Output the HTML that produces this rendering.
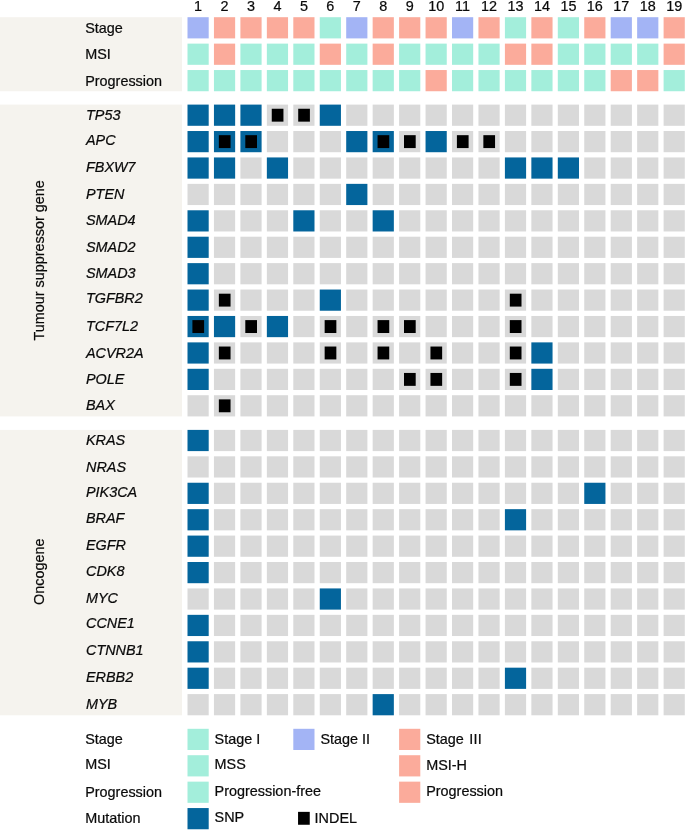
<!DOCTYPE html>
<html lang="en"><head><meta charset="utf-8"><title>Oncoprint</title>
<style>
html,body{margin:0;padding:0;background:#fff;}
body{width:685px;height:835px;overflow:hidden;}
svg{display:block;}
svg text{font-family:"Liberation Sans",Arial,Helvetica,sans-serif;font-size:14.4px;fill:#0a0a0a;stroke:#0a0a0a;stroke-width:0.22px;}
</style></head><body>
<svg width="685" height="835" viewBox="0 0 685 835">
<text x="198.10" y="10.90" text-anchor="middle">1</text>
<text x="224.55" y="10.90" text-anchor="middle">2</text>
<text x="251.00" y="10.90" text-anchor="middle">3</text>
<text x="277.45" y="10.90" text-anchor="middle">4</text>
<text x="303.90" y="10.90" text-anchor="middle">5</text>
<text x="330.35" y="10.90" text-anchor="middle">6</text>
<text x="356.80" y="10.90" text-anchor="middle">7</text>
<text x="383.25" y="10.90" text-anchor="middle">8</text>
<text x="409.70" y="10.90" text-anchor="middle">9</text>
<text x="436.15" y="10.90" text-anchor="middle">10</text>
<text x="462.60" y="10.90" text-anchor="middle">11</text>
<text x="489.05" y="10.90" text-anchor="middle">12</text>
<text x="515.50" y="10.90" text-anchor="middle">13</text>
<text x="541.95" y="10.90" text-anchor="middle">14</text>
<text x="568.40" y="10.90" text-anchor="middle">15</text>
<text x="594.85" y="10.90" text-anchor="middle">16</text>
<text x="621.30" y="10.90" text-anchor="middle">17</text>
<text x="647.75" y="10.90" text-anchor="middle">18</text>
<text x="674.20" y="10.90" text-anchor="middle">19</text>
<rect x="0.00" y="17.20" width="182.00" height="74.04" fill="#f5f3ee"/>
<rect x="0.00" y="104.60" width="182.00" height="311.82" fill="#f5f3ee"/>
<rect x="0.00" y="429.90" width="182.00" height="285.40" fill="#f5f3ee"/>
<text x="85.20" y="32.70">Stage</text>
<rect x="187.50" y="17.20" width="21.20" height="21.20" fill="#a3b4f5"/>
<rect x="213.95" y="17.20" width="21.20" height="21.20" fill="#fbab9b"/>
<rect x="240.40" y="17.20" width="21.20" height="21.20" fill="#fbab9b"/>
<rect x="266.85" y="17.20" width="21.20" height="21.20" fill="#fbab9b"/>
<rect x="293.30" y="17.20" width="21.20" height="21.20" fill="#fbab9b"/>
<rect x="319.75" y="17.20" width="21.20" height="21.20" fill="#a3eedb"/>
<rect x="346.20" y="17.20" width="21.20" height="21.20" fill="#a3b4f5"/>
<rect x="372.65" y="17.20" width="21.20" height="21.20" fill="#fbab9b"/>
<rect x="399.10" y="17.20" width="21.20" height="21.20" fill="#fbab9b"/>
<rect x="425.55" y="17.20" width="21.20" height="21.20" fill="#fbab9b"/>
<rect x="452.00" y="17.20" width="21.20" height="21.20" fill="#a3b4f5"/>
<rect x="478.45" y="17.20" width="21.20" height="21.20" fill="#fbab9b"/>
<rect x="504.90" y="17.20" width="21.20" height="21.20" fill="#a3eedb"/>
<rect x="531.35" y="17.20" width="21.20" height="21.20" fill="#fbab9b"/>
<rect x="557.80" y="17.20" width="21.20" height="21.20" fill="#a3eedb"/>
<rect x="584.25" y="17.20" width="21.20" height="21.20" fill="#fbab9b"/>
<rect x="610.70" y="17.20" width="21.20" height="21.20" fill="#a3b4f5"/>
<rect x="637.15" y="17.20" width="21.20" height="21.20" fill="#a3b4f5"/>
<rect x="663.60" y="17.20" width="21.20" height="21.20" fill="#fbab9b"/>
<text x="85.20" y="59.12">MSI</text>
<rect x="187.50" y="43.62" width="21.20" height="21.20" fill="#a3eedb"/>
<rect x="213.95" y="43.62" width="21.20" height="21.20" fill="#fbab9b"/>
<rect x="240.40" y="43.62" width="21.20" height="21.20" fill="#a3eedb"/>
<rect x="266.85" y="43.62" width="21.20" height="21.20" fill="#a3eedb"/>
<rect x="293.30" y="43.62" width="21.20" height="21.20" fill="#a3eedb"/>
<rect x="319.75" y="43.62" width="21.20" height="21.20" fill="#fbab9b"/>
<rect x="346.20" y="43.62" width="21.20" height="21.20" fill="#a3eedb"/>
<rect x="372.65" y="43.62" width="21.20" height="21.20" fill="#fbab9b"/>
<rect x="399.10" y="43.62" width="21.20" height="21.20" fill="#a3eedb"/>
<rect x="425.55" y="43.62" width="21.20" height="21.20" fill="#a3eedb"/>
<rect x="452.00" y="43.62" width="21.20" height="21.20" fill="#a3eedb"/>
<rect x="478.45" y="43.62" width="21.20" height="21.20" fill="#a3eedb"/>
<rect x="504.90" y="43.62" width="21.20" height="21.20" fill="#fbab9b"/>
<rect x="531.35" y="43.62" width="21.20" height="21.20" fill="#fbab9b"/>
<rect x="557.80" y="43.62" width="21.20" height="21.20" fill="#a3eedb"/>
<rect x="584.25" y="43.62" width="21.20" height="21.20" fill="#a3eedb"/>
<rect x="610.70" y="43.62" width="21.20" height="21.20" fill="#a3eedb"/>
<rect x="637.15" y="43.62" width="21.20" height="21.20" fill="#a3eedb"/>
<rect x="663.60" y="43.62" width="21.20" height="21.20" fill="#fbab9b"/>
<text x="85.20" y="85.54">Progression</text>
<rect x="187.50" y="70.04" width="21.20" height="21.20" fill="#a3eedb"/>
<rect x="213.95" y="70.04" width="21.20" height="21.20" fill="#a3eedb"/>
<rect x="240.40" y="70.04" width="21.20" height="21.20" fill="#a3eedb"/>
<rect x="266.85" y="70.04" width="21.20" height="21.20" fill="#a3eedb"/>
<rect x="293.30" y="70.04" width="21.20" height="21.20" fill="#a3eedb"/>
<rect x="319.75" y="70.04" width="21.20" height="21.20" fill="#a3eedb"/>
<rect x="346.20" y="70.04" width="21.20" height="21.20" fill="#a3eedb"/>
<rect x="372.65" y="70.04" width="21.20" height="21.20" fill="#a3eedb"/>
<rect x="399.10" y="70.04" width="21.20" height="21.20" fill="#a3eedb"/>
<rect x="425.55" y="70.04" width="21.20" height="21.20" fill="#fbab9b"/>
<rect x="452.00" y="70.04" width="21.20" height="21.20" fill="#a3eedb"/>
<rect x="478.45" y="70.04" width="21.20" height="21.20" fill="#a3eedb"/>
<rect x="504.90" y="70.04" width="21.20" height="21.20" fill="#a3eedb"/>
<rect x="531.35" y="70.04" width="21.20" height="21.20" fill="#a3eedb"/>
<rect x="557.80" y="70.04" width="21.20" height="21.20" fill="#a3eedb"/>
<rect x="584.25" y="70.04" width="21.20" height="21.20" fill="#a3eedb"/>
<rect x="610.70" y="70.04" width="21.20" height="21.20" fill="#fbab9b"/>
<rect x="637.15" y="70.04" width="21.20" height="21.20" fill="#fbab9b"/>
<rect x="663.60" y="70.04" width="21.20" height="21.20" fill="#a3eedb"/>
<text x="86.00" y="120.10" font-style="italic">TP53</text>
<rect x="187.50" y="104.60" width="21.20" height="21.20" fill="#04659c"/>
<rect x="213.95" y="104.60" width="21.20" height="21.20" fill="#04659c"/>
<rect x="240.40" y="104.60" width="21.20" height="21.20" fill="#04659c"/>
<rect x="266.85" y="104.60" width="21.20" height="21.20" fill="#d9d9d9"/>
<rect x="293.30" y="104.60" width="21.20" height="21.20" fill="#d9d9d9"/>
<rect x="319.75" y="104.60" width="21.20" height="21.20" fill="#04659c"/>
<rect x="346.20" y="104.60" width="21.20" height="21.20" fill="#d9d9d9"/>
<rect x="372.65" y="104.60" width="21.20" height="21.20" fill="#d9d9d9"/>
<rect x="399.10" y="104.60" width="21.20" height="21.20" fill="#d9d9d9"/>
<rect x="425.55" y="104.60" width="21.20" height="21.20" fill="#d9d9d9"/>
<rect x="452.00" y="104.60" width="21.20" height="21.20" fill="#d9d9d9"/>
<rect x="478.45" y="104.60" width="21.20" height="21.20" fill="#d9d9d9"/>
<rect x="504.90" y="104.60" width="21.20" height="21.20" fill="#d9d9d9"/>
<rect x="531.35" y="104.60" width="21.20" height="21.20" fill="#d9d9d9"/>
<rect x="557.80" y="104.60" width="21.20" height="21.20" fill="#d9d9d9"/>
<rect x="584.25" y="104.60" width="21.20" height="21.20" fill="#d9d9d9"/>
<rect x="610.70" y="104.60" width="21.20" height="21.20" fill="#d9d9d9"/>
<rect x="637.15" y="104.60" width="21.20" height="21.20" fill="#d9d9d9"/>
<rect x="663.60" y="104.60" width="21.20" height="21.20" fill="#d9d9d9"/>
<rect x="271.75" y="108.75" width="11.70" height="12.90" fill="#000"/>
<rect x="298.20" y="108.75" width="11.70" height="12.90" fill="#000"/>
<text x="86.00" y="145.27" font-style="italic">APC</text>
<rect x="187.50" y="131.02" width="21.20" height="21.20" fill="#04659c"/>
<rect x="213.95" y="131.02" width="21.20" height="21.20" fill="#04659c"/>
<rect x="240.40" y="131.02" width="21.20" height="21.20" fill="#04659c"/>
<rect x="266.85" y="131.02" width="21.20" height="21.20" fill="#d9d9d9"/>
<rect x="293.30" y="131.02" width="21.20" height="21.20" fill="#d9d9d9"/>
<rect x="319.75" y="131.02" width="21.20" height="21.20" fill="#d9d9d9"/>
<rect x="346.20" y="131.02" width="21.20" height="21.20" fill="#04659c"/>
<rect x="372.65" y="131.02" width="21.20" height="21.20" fill="#04659c"/>
<rect x="399.10" y="131.02" width="21.20" height="21.20" fill="#d9d9d9"/>
<rect x="425.55" y="131.02" width="21.20" height="21.20" fill="#04659c"/>
<rect x="452.00" y="131.02" width="21.20" height="21.20" fill="#d9d9d9"/>
<rect x="478.45" y="131.02" width="21.20" height="21.20" fill="#d9d9d9"/>
<rect x="504.90" y="131.02" width="21.20" height="21.20" fill="#d9d9d9"/>
<rect x="531.35" y="131.02" width="21.20" height="21.20" fill="#d9d9d9"/>
<rect x="557.80" y="131.02" width="21.20" height="21.20" fill="#d9d9d9"/>
<rect x="584.25" y="131.02" width="21.20" height="21.20" fill="#d9d9d9"/>
<rect x="610.70" y="131.02" width="21.20" height="21.20" fill="#d9d9d9"/>
<rect x="637.15" y="131.02" width="21.20" height="21.20" fill="#d9d9d9"/>
<rect x="663.60" y="131.02" width="21.20" height="21.20" fill="#d9d9d9"/>
<rect x="218.85" y="135.17" width="11.70" height="12.90" fill="#000"/>
<rect x="245.30" y="135.17" width="11.70" height="12.90" fill="#000"/>
<rect x="377.55" y="135.17" width="11.70" height="12.90" fill="#000"/>
<rect x="404.00" y="135.17" width="11.70" height="12.90" fill="#000"/>
<rect x="456.90" y="135.17" width="11.70" height="12.90" fill="#000"/>
<rect x="483.35" y="135.17" width="11.70" height="12.90" fill="#000"/>
<text x="86.00" y="172.44" font-style="italic">FBXW7</text>
<rect x="187.50" y="157.44" width="21.20" height="21.20" fill="#04659c"/>
<rect x="213.95" y="157.44" width="21.20" height="21.20" fill="#04659c"/>
<rect x="240.40" y="157.44" width="21.20" height="21.20" fill="#d9d9d9"/>
<rect x="266.85" y="157.44" width="21.20" height="21.20" fill="#04659c"/>
<rect x="293.30" y="157.44" width="21.20" height="21.20" fill="#d9d9d9"/>
<rect x="319.75" y="157.44" width="21.20" height="21.20" fill="#d9d9d9"/>
<rect x="346.20" y="157.44" width="21.20" height="21.20" fill="#d9d9d9"/>
<rect x="372.65" y="157.44" width="21.20" height="21.20" fill="#d9d9d9"/>
<rect x="399.10" y="157.44" width="21.20" height="21.20" fill="#d9d9d9"/>
<rect x="425.55" y="157.44" width="21.20" height="21.20" fill="#d9d9d9"/>
<rect x="452.00" y="157.44" width="21.20" height="21.20" fill="#d9d9d9"/>
<rect x="478.45" y="157.44" width="21.20" height="21.20" fill="#d9d9d9"/>
<rect x="504.90" y="157.44" width="21.20" height="21.20" fill="#04659c"/>
<rect x="531.35" y="157.44" width="21.20" height="21.20" fill="#04659c"/>
<rect x="557.80" y="157.44" width="21.20" height="21.20" fill="#04659c"/>
<rect x="584.25" y="157.44" width="21.20" height="21.20" fill="#d9d9d9"/>
<rect x="610.70" y="157.44" width="21.20" height="21.20" fill="#d9d9d9"/>
<rect x="637.15" y="157.44" width="21.20" height="21.20" fill="#d9d9d9"/>
<rect x="663.60" y="157.44" width="21.20" height="21.20" fill="#d9d9d9"/>
<text x="86.00" y="198.86" font-style="italic">PTEN</text>
<rect x="187.50" y="183.86" width="21.20" height="21.20" fill="#d9d9d9"/>
<rect x="213.95" y="183.86" width="21.20" height="21.20" fill="#d9d9d9"/>
<rect x="240.40" y="183.86" width="21.20" height="21.20" fill="#d9d9d9"/>
<rect x="266.85" y="183.86" width="21.20" height="21.20" fill="#d9d9d9"/>
<rect x="293.30" y="183.86" width="21.20" height="21.20" fill="#d9d9d9"/>
<rect x="319.75" y="183.86" width="21.20" height="21.20" fill="#d9d9d9"/>
<rect x="346.20" y="183.86" width="21.20" height="21.20" fill="#04659c"/>
<rect x="372.65" y="183.86" width="21.20" height="21.20" fill="#d9d9d9"/>
<rect x="399.10" y="183.86" width="21.20" height="21.20" fill="#d9d9d9"/>
<rect x="425.55" y="183.86" width="21.20" height="21.20" fill="#d9d9d9"/>
<rect x="452.00" y="183.86" width="21.20" height="21.20" fill="#d9d9d9"/>
<rect x="478.45" y="183.86" width="21.20" height="21.20" fill="#d9d9d9"/>
<rect x="504.90" y="183.86" width="21.20" height="21.20" fill="#d9d9d9"/>
<rect x="531.35" y="183.86" width="21.20" height="21.20" fill="#d9d9d9"/>
<rect x="557.80" y="183.86" width="21.20" height="21.20" fill="#d9d9d9"/>
<rect x="584.25" y="183.86" width="21.20" height="21.20" fill="#d9d9d9"/>
<rect x="610.70" y="183.86" width="21.20" height="21.20" fill="#d9d9d9"/>
<rect x="637.15" y="183.86" width="21.20" height="21.20" fill="#d9d9d9"/>
<rect x="663.60" y="183.86" width="21.20" height="21.20" fill="#d9d9d9"/>
<text x="86.00" y="225.08" font-style="italic">SMAD4</text>
<rect x="187.50" y="210.28" width="21.20" height="21.20" fill="#04659c"/>
<rect x="213.95" y="210.28" width="21.20" height="21.20" fill="#d9d9d9"/>
<rect x="240.40" y="210.28" width="21.20" height="21.20" fill="#d9d9d9"/>
<rect x="266.85" y="210.28" width="21.20" height="21.20" fill="#d9d9d9"/>
<rect x="293.30" y="210.28" width="21.20" height="21.20" fill="#04659c"/>
<rect x="319.75" y="210.28" width="21.20" height="21.20" fill="#d9d9d9"/>
<rect x="346.20" y="210.28" width="21.20" height="21.20" fill="#d9d9d9"/>
<rect x="372.65" y="210.28" width="21.20" height="21.20" fill="#04659c"/>
<rect x="399.10" y="210.28" width="21.20" height="21.20" fill="#d9d9d9"/>
<rect x="425.55" y="210.28" width="21.20" height="21.20" fill="#d9d9d9"/>
<rect x="452.00" y="210.28" width="21.20" height="21.20" fill="#d9d9d9"/>
<rect x="478.45" y="210.28" width="21.20" height="21.20" fill="#d9d9d9"/>
<rect x="504.90" y="210.28" width="21.20" height="21.20" fill="#d9d9d9"/>
<rect x="531.35" y="210.28" width="21.20" height="21.20" fill="#d9d9d9"/>
<rect x="557.80" y="210.28" width="21.20" height="21.20" fill="#d9d9d9"/>
<rect x="584.25" y="210.28" width="21.20" height="21.20" fill="#d9d9d9"/>
<rect x="610.70" y="210.28" width="21.20" height="21.20" fill="#d9d9d9"/>
<rect x="637.15" y="210.28" width="21.20" height="21.20" fill="#d9d9d9"/>
<rect x="663.60" y="210.28" width="21.20" height="21.20" fill="#d9d9d9"/>
<text x="86.00" y="251.50" font-style="italic">SMAD2</text>
<rect x="187.50" y="236.70" width="21.20" height="21.20" fill="#04659c"/>
<rect x="213.95" y="236.70" width="21.20" height="21.20" fill="#d9d9d9"/>
<rect x="240.40" y="236.70" width="21.20" height="21.20" fill="#d9d9d9"/>
<rect x="266.85" y="236.70" width="21.20" height="21.20" fill="#d9d9d9"/>
<rect x="293.30" y="236.70" width="21.20" height="21.20" fill="#d9d9d9"/>
<rect x="319.75" y="236.70" width="21.20" height="21.20" fill="#d9d9d9"/>
<rect x="346.20" y="236.70" width="21.20" height="21.20" fill="#d9d9d9"/>
<rect x="372.65" y="236.70" width="21.20" height="21.20" fill="#d9d9d9"/>
<rect x="399.10" y="236.70" width="21.20" height="21.20" fill="#d9d9d9"/>
<rect x="425.55" y="236.70" width="21.20" height="21.20" fill="#d9d9d9"/>
<rect x="452.00" y="236.70" width="21.20" height="21.20" fill="#d9d9d9"/>
<rect x="478.45" y="236.70" width="21.20" height="21.20" fill="#d9d9d9"/>
<rect x="504.90" y="236.70" width="21.20" height="21.20" fill="#d9d9d9"/>
<rect x="531.35" y="236.70" width="21.20" height="21.20" fill="#d9d9d9"/>
<rect x="557.80" y="236.70" width="21.20" height="21.20" fill="#d9d9d9"/>
<rect x="584.25" y="236.70" width="21.20" height="21.20" fill="#d9d9d9"/>
<rect x="610.70" y="236.70" width="21.20" height="21.20" fill="#d9d9d9"/>
<rect x="637.15" y="236.70" width="21.20" height="21.20" fill="#d9d9d9"/>
<rect x="663.60" y="236.70" width="21.20" height="21.20" fill="#d9d9d9"/>
<text x="86.00" y="277.62" font-style="italic">SMAD3</text>
<rect x="187.50" y="263.12" width="21.20" height="21.20" fill="#04659c"/>
<rect x="213.95" y="263.12" width="21.20" height="21.20" fill="#d9d9d9"/>
<rect x="240.40" y="263.12" width="21.20" height="21.20" fill="#d9d9d9"/>
<rect x="266.85" y="263.12" width="21.20" height="21.20" fill="#d9d9d9"/>
<rect x="293.30" y="263.12" width="21.20" height="21.20" fill="#d9d9d9"/>
<rect x="319.75" y="263.12" width="21.20" height="21.20" fill="#d9d9d9"/>
<rect x="346.20" y="263.12" width="21.20" height="21.20" fill="#d9d9d9"/>
<rect x="372.65" y="263.12" width="21.20" height="21.20" fill="#d9d9d9"/>
<rect x="399.10" y="263.12" width="21.20" height="21.20" fill="#d9d9d9"/>
<rect x="425.55" y="263.12" width="21.20" height="21.20" fill="#d9d9d9"/>
<rect x="452.00" y="263.12" width="21.20" height="21.20" fill="#d9d9d9"/>
<rect x="478.45" y="263.12" width="21.20" height="21.20" fill="#d9d9d9"/>
<rect x="504.90" y="263.12" width="21.20" height="21.20" fill="#d9d9d9"/>
<rect x="531.35" y="263.12" width="21.20" height="21.20" fill="#d9d9d9"/>
<rect x="557.80" y="263.12" width="21.20" height="21.20" fill="#d9d9d9"/>
<rect x="584.25" y="263.12" width="21.20" height="21.20" fill="#d9d9d9"/>
<rect x="610.70" y="263.12" width="21.20" height="21.20" fill="#d9d9d9"/>
<rect x="637.15" y="263.12" width="21.20" height="21.20" fill="#d9d9d9"/>
<rect x="663.60" y="263.12" width="21.20" height="21.20" fill="#d9d9d9"/>
<text x="86.00" y="302.84" font-style="italic">TGFBR2</text>
<rect x="187.50" y="289.54" width="21.20" height="21.20" fill="#04659c"/>
<rect x="213.95" y="289.54" width="21.20" height="21.20" fill="#d9d9d9"/>
<rect x="240.40" y="289.54" width="21.20" height="21.20" fill="#d9d9d9"/>
<rect x="266.85" y="289.54" width="21.20" height="21.20" fill="#d9d9d9"/>
<rect x="293.30" y="289.54" width="21.20" height="21.20" fill="#d9d9d9"/>
<rect x="319.75" y="289.54" width="21.20" height="21.20" fill="#04659c"/>
<rect x="346.20" y="289.54" width="21.20" height="21.20" fill="#d9d9d9"/>
<rect x="372.65" y="289.54" width="21.20" height="21.20" fill="#d9d9d9"/>
<rect x="399.10" y="289.54" width="21.20" height="21.20" fill="#d9d9d9"/>
<rect x="425.55" y="289.54" width="21.20" height="21.20" fill="#d9d9d9"/>
<rect x="452.00" y="289.54" width="21.20" height="21.20" fill="#d9d9d9"/>
<rect x="478.45" y="289.54" width="21.20" height="21.20" fill="#d9d9d9"/>
<rect x="504.90" y="289.54" width="21.20" height="21.20" fill="#d9d9d9"/>
<rect x="531.35" y="289.54" width="21.20" height="21.20" fill="#d9d9d9"/>
<rect x="557.80" y="289.54" width="21.20" height="21.20" fill="#d9d9d9"/>
<rect x="584.25" y="289.54" width="21.20" height="21.20" fill="#d9d9d9"/>
<rect x="610.70" y="289.54" width="21.20" height="21.20" fill="#d9d9d9"/>
<rect x="637.15" y="289.54" width="21.20" height="21.20" fill="#d9d9d9"/>
<rect x="663.60" y="289.54" width="21.20" height="21.20" fill="#d9d9d9"/>
<rect x="218.85" y="293.69" width="11.70" height="12.90" fill="#000"/>
<rect x="509.80" y="293.69" width="11.70" height="12.90" fill="#000"/>
<text x="86.00" y="330.76" font-style="italic">TCF7L2</text>
<rect x="187.50" y="315.96" width="21.20" height="21.20" fill="#04659c"/>
<rect x="213.95" y="315.96" width="21.20" height="21.20" fill="#04659c"/>
<rect x="240.40" y="315.96" width="21.20" height="21.20" fill="#d9d9d9"/>
<rect x="266.85" y="315.96" width="21.20" height="21.20" fill="#04659c"/>
<rect x="293.30" y="315.96" width="21.20" height="21.20" fill="#d9d9d9"/>
<rect x="319.75" y="315.96" width="21.20" height="21.20" fill="#d9d9d9"/>
<rect x="346.20" y="315.96" width="21.20" height="21.20" fill="#d9d9d9"/>
<rect x="372.65" y="315.96" width="21.20" height="21.20" fill="#d9d9d9"/>
<rect x="399.10" y="315.96" width="21.20" height="21.20" fill="#d9d9d9"/>
<rect x="425.55" y="315.96" width="21.20" height="21.20" fill="#d9d9d9"/>
<rect x="452.00" y="315.96" width="21.20" height="21.20" fill="#d9d9d9"/>
<rect x="478.45" y="315.96" width="21.20" height="21.20" fill="#d9d9d9"/>
<rect x="504.90" y="315.96" width="21.20" height="21.20" fill="#d9d9d9"/>
<rect x="531.35" y="315.96" width="21.20" height="21.20" fill="#d9d9d9"/>
<rect x="557.80" y="315.96" width="21.20" height="21.20" fill="#d9d9d9"/>
<rect x="584.25" y="315.96" width="21.20" height="21.20" fill="#d9d9d9"/>
<rect x="610.70" y="315.96" width="21.20" height="21.20" fill="#d9d9d9"/>
<rect x="637.15" y="315.96" width="21.20" height="21.20" fill="#d9d9d9"/>
<rect x="663.60" y="315.96" width="21.20" height="21.20" fill="#d9d9d9"/>
<rect x="192.40" y="320.11" width="11.70" height="12.90" fill="#000"/>
<rect x="245.30" y="320.11" width="11.70" height="12.90" fill="#000"/>
<rect x="324.65" y="320.11" width="11.70" height="12.90" fill="#000"/>
<rect x="377.55" y="320.11" width="11.70" height="12.90" fill="#000"/>
<rect x="404.00" y="320.11" width="11.70" height="12.90" fill="#000"/>
<rect x="509.80" y="320.11" width="11.70" height="12.90" fill="#000"/>
<text x="86.00" y="357.88" font-style="italic">ACVR2A</text>
<rect x="187.50" y="342.38" width="21.20" height="21.20" fill="#04659c"/>
<rect x="213.95" y="342.38" width="21.20" height="21.20" fill="#d9d9d9"/>
<rect x="240.40" y="342.38" width="21.20" height="21.20" fill="#d9d9d9"/>
<rect x="266.85" y="342.38" width="21.20" height="21.20" fill="#d9d9d9"/>
<rect x="293.30" y="342.38" width="21.20" height="21.20" fill="#d9d9d9"/>
<rect x="319.75" y="342.38" width="21.20" height="21.20" fill="#d9d9d9"/>
<rect x="346.20" y="342.38" width="21.20" height="21.20" fill="#d9d9d9"/>
<rect x="372.65" y="342.38" width="21.20" height="21.20" fill="#d9d9d9"/>
<rect x="399.10" y="342.38" width="21.20" height="21.20" fill="#d9d9d9"/>
<rect x="425.55" y="342.38" width="21.20" height="21.20" fill="#d9d9d9"/>
<rect x="452.00" y="342.38" width="21.20" height="21.20" fill="#d9d9d9"/>
<rect x="478.45" y="342.38" width="21.20" height="21.20" fill="#d9d9d9"/>
<rect x="504.90" y="342.38" width="21.20" height="21.20" fill="#d9d9d9"/>
<rect x="531.35" y="342.38" width="21.20" height="21.20" fill="#04659c"/>
<rect x="557.80" y="342.38" width="21.20" height="21.20" fill="#d9d9d9"/>
<rect x="584.25" y="342.38" width="21.20" height="21.20" fill="#d9d9d9"/>
<rect x="610.70" y="342.38" width="21.20" height="21.20" fill="#d9d9d9"/>
<rect x="637.15" y="342.38" width="21.20" height="21.20" fill="#d9d9d9"/>
<rect x="663.60" y="342.38" width="21.20" height="21.20" fill="#d9d9d9"/>
<rect x="218.85" y="346.53" width="11.70" height="12.90" fill="#000"/>
<rect x="324.65" y="346.53" width="11.70" height="12.90" fill="#000"/>
<rect x="377.55" y="346.53" width="11.70" height="12.90" fill="#000"/>
<rect x="430.45" y="346.53" width="11.70" height="12.90" fill="#000"/>
<rect x="509.80" y="346.53" width="11.70" height="12.90" fill="#000"/>
<text x="86.00" y="384.30" font-style="italic">POLE</text>
<rect x="187.50" y="368.80" width="21.20" height="21.20" fill="#04659c"/>
<rect x="213.95" y="368.80" width="21.20" height="21.20" fill="#d9d9d9"/>
<rect x="240.40" y="368.80" width="21.20" height="21.20" fill="#d9d9d9"/>
<rect x="266.85" y="368.80" width="21.20" height="21.20" fill="#d9d9d9"/>
<rect x="293.30" y="368.80" width="21.20" height="21.20" fill="#d9d9d9"/>
<rect x="319.75" y="368.80" width="21.20" height="21.20" fill="#d9d9d9"/>
<rect x="346.20" y="368.80" width="21.20" height="21.20" fill="#d9d9d9"/>
<rect x="372.65" y="368.80" width="21.20" height="21.20" fill="#d9d9d9"/>
<rect x="399.10" y="368.80" width="21.20" height="21.20" fill="#d9d9d9"/>
<rect x="425.55" y="368.80" width="21.20" height="21.20" fill="#d9d9d9"/>
<rect x="452.00" y="368.80" width="21.20" height="21.20" fill="#d9d9d9"/>
<rect x="478.45" y="368.80" width="21.20" height="21.20" fill="#d9d9d9"/>
<rect x="504.90" y="368.80" width="21.20" height="21.20" fill="#d9d9d9"/>
<rect x="531.35" y="368.80" width="21.20" height="21.20" fill="#04659c"/>
<rect x="557.80" y="368.80" width="21.20" height="21.20" fill="#d9d9d9"/>
<rect x="584.25" y="368.80" width="21.20" height="21.20" fill="#d9d9d9"/>
<rect x="610.70" y="368.80" width="21.20" height="21.20" fill="#d9d9d9"/>
<rect x="637.15" y="368.80" width="21.20" height="21.20" fill="#d9d9d9"/>
<rect x="663.60" y="368.80" width="21.20" height="21.20" fill="#d9d9d9"/>
<rect x="404.00" y="372.95" width="11.70" height="12.90" fill="#000"/>
<rect x="430.45" y="372.95" width="11.70" height="12.90" fill="#000"/>
<rect x="509.80" y="372.95" width="11.70" height="12.90" fill="#000"/>
<text x="86.00" y="410.22" font-style="italic">BAX</text>
<rect x="187.50" y="395.22" width="21.20" height="21.20" fill="#d9d9d9"/>
<rect x="213.95" y="395.22" width="21.20" height="21.20" fill="#d9d9d9"/>
<rect x="240.40" y="395.22" width="21.20" height="21.20" fill="#d9d9d9"/>
<rect x="266.85" y="395.22" width="21.20" height="21.20" fill="#d9d9d9"/>
<rect x="293.30" y="395.22" width="21.20" height="21.20" fill="#d9d9d9"/>
<rect x="319.75" y="395.22" width="21.20" height="21.20" fill="#d9d9d9"/>
<rect x="346.20" y="395.22" width="21.20" height="21.20" fill="#d9d9d9"/>
<rect x="372.65" y="395.22" width="21.20" height="21.20" fill="#d9d9d9"/>
<rect x="399.10" y="395.22" width="21.20" height="21.20" fill="#d9d9d9"/>
<rect x="425.55" y="395.22" width="21.20" height="21.20" fill="#d9d9d9"/>
<rect x="452.00" y="395.22" width="21.20" height="21.20" fill="#d9d9d9"/>
<rect x="478.45" y="395.22" width="21.20" height="21.20" fill="#d9d9d9"/>
<rect x="504.90" y="395.22" width="21.20" height="21.20" fill="#d9d9d9"/>
<rect x="531.35" y="395.22" width="21.20" height="21.20" fill="#d9d9d9"/>
<rect x="557.80" y="395.22" width="21.20" height="21.20" fill="#d9d9d9"/>
<rect x="584.25" y="395.22" width="21.20" height="21.20" fill="#d9d9d9"/>
<rect x="610.70" y="395.22" width="21.20" height="21.20" fill="#d9d9d9"/>
<rect x="637.15" y="395.22" width="21.20" height="21.20" fill="#d9d9d9"/>
<rect x="663.60" y="395.22" width="21.20" height="21.20" fill="#d9d9d9"/>
<rect x="218.85" y="399.37" width="11.70" height="12.90" fill="#000"/>
<text x="86.00" y="445.40" font-style="italic">KRAS</text>
<rect x="187.50" y="429.90" width="21.20" height="21.20" fill="#04659c"/>
<rect x="213.95" y="429.90" width="21.20" height="21.20" fill="#d9d9d9"/>
<rect x="240.40" y="429.90" width="21.20" height="21.20" fill="#d9d9d9"/>
<rect x="266.85" y="429.90" width="21.20" height="21.20" fill="#d9d9d9"/>
<rect x="293.30" y="429.90" width="21.20" height="21.20" fill="#d9d9d9"/>
<rect x="319.75" y="429.90" width="21.20" height="21.20" fill="#d9d9d9"/>
<rect x="346.20" y="429.90" width="21.20" height="21.20" fill="#d9d9d9"/>
<rect x="372.65" y="429.90" width="21.20" height="21.20" fill="#d9d9d9"/>
<rect x="399.10" y="429.90" width="21.20" height="21.20" fill="#d9d9d9"/>
<rect x="425.55" y="429.90" width="21.20" height="21.20" fill="#d9d9d9"/>
<rect x="452.00" y="429.90" width="21.20" height="21.20" fill="#d9d9d9"/>
<rect x="478.45" y="429.90" width="21.20" height="21.20" fill="#d9d9d9"/>
<rect x="504.90" y="429.90" width="21.20" height="21.20" fill="#d9d9d9"/>
<rect x="531.35" y="429.90" width="21.20" height="21.20" fill="#d9d9d9"/>
<rect x="557.80" y="429.90" width="21.20" height="21.20" fill="#d9d9d9"/>
<rect x="584.25" y="429.90" width="21.20" height="21.20" fill="#d9d9d9"/>
<rect x="610.70" y="429.90" width="21.20" height="21.20" fill="#d9d9d9"/>
<rect x="637.15" y="429.90" width="21.20" height="21.20" fill="#d9d9d9"/>
<rect x="663.60" y="429.90" width="21.20" height="21.20" fill="#d9d9d9"/>
<text x="86.00" y="471.82" font-style="italic">NRAS</text>
<rect x="187.50" y="456.32" width="21.20" height="21.20" fill="#d9d9d9"/>
<rect x="213.95" y="456.32" width="21.20" height="21.20" fill="#d9d9d9"/>
<rect x="240.40" y="456.32" width="21.20" height="21.20" fill="#d9d9d9"/>
<rect x="266.85" y="456.32" width="21.20" height="21.20" fill="#d9d9d9"/>
<rect x="293.30" y="456.32" width="21.20" height="21.20" fill="#d9d9d9"/>
<rect x="319.75" y="456.32" width="21.20" height="21.20" fill="#d9d9d9"/>
<rect x="346.20" y="456.32" width="21.20" height="21.20" fill="#d9d9d9"/>
<rect x="372.65" y="456.32" width="21.20" height="21.20" fill="#d9d9d9"/>
<rect x="399.10" y="456.32" width="21.20" height="21.20" fill="#d9d9d9"/>
<rect x="425.55" y="456.32" width="21.20" height="21.20" fill="#d9d9d9"/>
<rect x="452.00" y="456.32" width="21.20" height="21.20" fill="#d9d9d9"/>
<rect x="478.45" y="456.32" width="21.20" height="21.20" fill="#d9d9d9"/>
<rect x="504.90" y="456.32" width="21.20" height="21.20" fill="#d9d9d9"/>
<rect x="531.35" y="456.32" width="21.20" height="21.20" fill="#d9d9d9"/>
<rect x="557.80" y="456.32" width="21.20" height="21.20" fill="#d9d9d9"/>
<rect x="584.25" y="456.32" width="21.20" height="21.20" fill="#d9d9d9"/>
<rect x="610.70" y="456.32" width="21.20" height="21.20" fill="#d9d9d9"/>
<rect x="637.15" y="456.32" width="21.20" height="21.20" fill="#d9d9d9"/>
<rect x="663.60" y="456.32" width="21.20" height="21.20" fill="#d9d9d9"/>
<text x="86.00" y="497.09" font-style="italic">PIK3CA</text>
<rect x="187.50" y="482.74" width="21.20" height="21.20" fill="#04659c"/>
<rect x="213.95" y="482.74" width="21.20" height="21.20" fill="#d9d9d9"/>
<rect x="240.40" y="482.74" width="21.20" height="21.20" fill="#d9d9d9"/>
<rect x="266.85" y="482.74" width="21.20" height="21.20" fill="#d9d9d9"/>
<rect x="293.30" y="482.74" width="21.20" height="21.20" fill="#d9d9d9"/>
<rect x="319.75" y="482.74" width="21.20" height="21.20" fill="#d9d9d9"/>
<rect x="346.20" y="482.74" width="21.20" height="21.20" fill="#d9d9d9"/>
<rect x="372.65" y="482.74" width="21.20" height="21.20" fill="#d9d9d9"/>
<rect x="399.10" y="482.74" width="21.20" height="21.20" fill="#d9d9d9"/>
<rect x="425.55" y="482.74" width="21.20" height="21.20" fill="#d9d9d9"/>
<rect x="452.00" y="482.74" width="21.20" height="21.20" fill="#d9d9d9"/>
<rect x="478.45" y="482.74" width="21.20" height="21.20" fill="#d9d9d9"/>
<rect x="504.90" y="482.74" width="21.20" height="21.20" fill="#d9d9d9"/>
<rect x="531.35" y="482.74" width="21.20" height="21.20" fill="#d9d9d9"/>
<rect x="557.80" y="482.74" width="21.20" height="21.20" fill="#d9d9d9"/>
<rect x="584.25" y="482.74" width="21.20" height="21.20" fill="#04659c"/>
<rect x="610.70" y="482.74" width="21.20" height="21.20" fill="#d9d9d9"/>
<rect x="637.15" y="482.74" width="21.20" height="21.20" fill="#d9d9d9"/>
<rect x="663.60" y="482.74" width="21.20" height="21.20" fill="#d9d9d9"/>
<text x="86.00" y="523.41" font-style="italic">BRAF</text>
<rect x="187.50" y="509.16" width="21.20" height="21.20" fill="#04659c"/>
<rect x="213.95" y="509.16" width="21.20" height="21.20" fill="#d9d9d9"/>
<rect x="240.40" y="509.16" width="21.20" height="21.20" fill="#d9d9d9"/>
<rect x="266.85" y="509.16" width="21.20" height="21.20" fill="#d9d9d9"/>
<rect x="293.30" y="509.16" width="21.20" height="21.20" fill="#d9d9d9"/>
<rect x="319.75" y="509.16" width="21.20" height="21.20" fill="#d9d9d9"/>
<rect x="346.20" y="509.16" width="21.20" height="21.20" fill="#d9d9d9"/>
<rect x="372.65" y="509.16" width="21.20" height="21.20" fill="#d9d9d9"/>
<rect x="399.10" y="509.16" width="21.20" height="21.20" fill="#d9d9d9"/>
<rect x="425.55" y="509.16" width="21.20" height="21.20" fill="#d9d9d9"/>
<rect x="452.00" y="509.16" width="21.20" height="21.20" fill="#d9d9d9"/>
<rect x="478.45" y="509.16" width="21.20" height="21.20" fill="#d9d9d9"/>
<rect x="504.90" y="509.16" width="21.20" height="21.20" fill="#04659c"/>
<rect x="531.35" y="509.16" width="21.20" height="21.20" fill="#d9d9d9"/>
<rect x="557.80" y="509.16" width="21.20" height="21.20" fill="#d9d9d9"/>
<rect x="584.25" y="509.16" width="21.20" height="21.20" fill="#d9d9d9"/>
<rect x="610.70" y="509.16" width="21.20" height="21.20" fill="#d9d9d9"/>
<rect x="637.15" y="509.16" width="21.20" height="21.20" fill="#d9d9d9"/>
<rect x="663.60" y="509.16" width="21.20" height="21.20" fill="#d9d9d9"/>
<text x="86.00" y="549.93" font-style="italic">EGFR</text>
<rect x="187.50" y="535.58" width="21.20" height="21.20" fill="#04659c"/>
<rect x="213.95" y="535.58" width="21.20" height="21.20" fill="#d9d9d9"/>
<rect x="240.40" y="535.58" width="21.20" height="21.20" fill="#d9d9d9"/>
<rect x="266.85" y="535.58" width="21.20" height="21.20" fill="#d9d9d9"/>
<rect x="293.30" y="535.58" width="21.20" height="21.20" fill="#d9d9d9"/>
<rect x="319.75" y="535.58" width="21.20" height="21.20" fill="#d9d9d9"/>
<rect x="346.20" y="535.58" width="21.20" height="21.20" fill="#d9d9d9"/>
<rect x="372.65" y="535.58" width="21.20" height="21.20" fill="#d9d9d9"/>
<rect x="399.10" y="535.58" width="21.20" height="21.20" fill="#d9d9d9"/>
<rect x="425.55" y="535.58" width="21.20" height="21.20" fill="#d9d9d9"/>
<rect x="452.00" y="535.58" width="21.20" height="21.20" fill="#d9d9d9"/>
<rect x="478.45" y="535.58" width="21.20" height="21.20" fill="#d9d9d9"/>
<rect x="504.90" y="535.58" width="21.20" height="21.20" fill="#d9d9d9"/>
<rect x="531.35" y="535.58" width="21.20" height="21.20" fill="#d9d9d9"/>
<rect x="557.80" y="535.58" width="21.20" height="21.20" fill="#d9d9d9"/>
<rect x="584.25" y="535.58" width="21.20" height="21.20" fill="#d9d9d9"/>
<rect x="610.70" y="535.58" width="21.20" height="21.20" fill="#d9d9d9"/>
<rect x="637.15" y="535.58" width="21.20" height="21.20" fill="#d9d9d9"/>
<rect x="663.60" y="535.58" width="21.20" height="21.20" fill="#d9d9d9"/>
<text x="86.00" y="576.25" font-style="italic">CDK8</text>
<rect x="187.50" y="562.00" width="21.20" height="21.20" fill="#04659c"/>
<rect x="213.95" y="562.00" width="21.20" height="21.20" fill="#d9d9d9"/>
<rect x="240.40" y="562.00" width="21.20" height="21.20" fill="#d9d9d9"/>
<rect x="266.85" y="562.00" width="21.20" height="21.20" fill="#d9d9d9"/>
<rect x="293.30" y="562.00" width="21.20" height="21.20" fill="#d9d9d9"/>
<rect x="319.75" y="562.00" width="21.20" height="21.20" fill="#d9d9d9"/>
<rect x="346.20" y="562.00" width="21.20" height="21.20" fill="#d9d9d9"/>
<rect x="372.65" y="562.00" width="21.20" height="21.20" fill="#d9d9d9"/>
<rect x="399.10" y="562.00" width="21.20" height="21.20" fill="#d9d9d9"/>
<rect x="425.55" y="562.00" width="21.20" height="21.20" fill="#d9d9d9"/>
<rect x="452.00" y="562.00" width="21.20" height="21.20" fill="#d9d9d9"/>
<rect x="478.45" y="562.00" width="21.20" height="21.20" fill="#d9d9d9"/>
<rect x="504.90" y="562.00" width="21.20" height="21.20" fill="#d9d9d9"/>
<rect x="531.35" y="562.00" width="21.20" height="21.20" fill="#d9d9d9"/>
<rect x="557.80" y="562.00" width="21.20" height="21.20" fill="#d9d9d9"/>
<rect x="584.25" y="562.00" width="21.20" height="21.20" fill="#d9d9d9"/>
<rect x="610.70" y="562.00" width="21.20" height="21.20" fill="#d9d9d9"/>
<rect x="637.15" y="562.00" width="21.20" height="21.20" fill="#d9d9d9"/>
<rect x="663.60" y="562.00" width="21.20" height="21.20" fill="#d9d9d9"/>
<text x="86.00" y="602.67" font-style="italic">MYC</text>
<rect x="187.50" y="588.42" width="21.20" height="21.20" fill="#d9d9d9"/>
<rect x="213.95" y="588.42" width="21.20" height="21.20" fill="#d9d9d9"/>
<rect x="240.40" y="588.42" width="21.20" height="21.20" fill="#d9d9d9"/>
<rect x="266.85" y="588.42" width="21.20" height="21.20" fill="#d9d9d9"/>
<rect x="293.30" y="588.42" width="21.20" height="21.20" fill="#d9d9d9"/>
<rect x="319.75" y="588.42" width="21.20" height="21.20" fill="#04659c"/>
<rect x="346.20" y="588.42" width="21.20" height="21.20" fill="#d9d9d9"/>
<rect x="372.65" y="588.42" width="21.20" height="21.20" fill="#d9d9d9"/>
<rect x="399.10" y="588.42" width="21.20" height="21.20" fill="#d9d9d9"/>
<rect x="425.55" y="588.42" width="21.20" height="21.20" fill="#d9d9d9"/>
<rect x="452.00" y="588.42" width="21.20" height="21.20" fill="#d9d9d9"/>
<rect x="478.45" y="588.42" width="21.20" height="21.20" fill="#d9d9d9"/>
<rect x="504.90" y="588.42" width="21.20" height="21.20" fill="#d9d9d9"/>
<rect x="531.35" y="588.42" width="21.20" height="21.20" fill="#d9d9d9"/>
<rect x="557.80" y="588.42" width="21.20" height="21.20" fill="#d9d9d9"/>
<rect x="584.25" y="588.42" width="21.20" height="21.20" fill="#d9d9d9"/>
<rect x="610.70" y="588.42" width="21.20" height="21.20" fill="#d9d9d9"/>
<rect x="637.15" y="588.42" width="21.20" height="21.20" fill="#d9d9d9"/>
<rect x="663.60" y="588.42" width="21.20" height="21.20" fill="#d9d9d9"/>
<text x="86.00" y="628.24" font-style="italic">CCNE1</text>
<rect x="187.50" y="614.84" width="21.20" height="21.20" fill="#04659c"/>
<rect x="213.95" y="614.84" width="21.20" height="21.20" fill="#d9d9d9"/>
<rect x="240.40" y="614.84" width="21.20" height="21.20" fill="#d9d9d9"/>
<rect x="266.85" y="614.84" width="21.20" height="21.20" fill="#d9d9d9"/>
<rect x="293.30" y="614.84" width="21.20" height="21.20" fill="#d9d9d9"/>
<rect x="319.75" y="614.84" width="21.20" height="21.20" fill="#d9d9d9"/>
<rect x="346.20" y="614.84" width="21.20" height="21.20" fill="#d9d9d9"/>
<rect x="372.65" y="614.84" width="21.20" height="21.20" fill="#d9d9d9"/>
<rect x="399.10" y="614.84" width="21.20" height="21.20" fill="#d9d9d9"/>
<rect x="425.55" y="614.84" width="21.20" height="21.20" fill="#d9d9d9"/>
<rect x="452.00" y="614.84" width="21.20" height="21.20" fill="#d9d9d9"/>
<rect x="478.45" y="614.84" width="21.20" height="21.20" fill="#d9d9d9"/>
<rect x="504.90" y="614.84" width="21.20" height="21.20" fill="#d9d9d9"/>
<rect x="531.35" y="614.84" width="21.20" height="21.20" fill="#d9d9d9"/>
<rect x="557.80" y="614.84" width="21.20" height="21.20" fill="#d9d9d9"/>
<rect x="584.25" y="614.84" width="21.20" height="21.20" fill="#d9d9d9"/>
<rect x="610.70" y="614.84" width="21.20" height="21.20" fill="#d9d9d9"/>
<rect x="637.15" y="614.84" width="21.20" height="21.20" fill="#d9d9d9"/>
<rect x="663.60" y="614.84" width="21.20" height="21.20" fill="#d9d9d9"/>
<text x="86.00" y="654.86" font-style="italic">CTNNB1</text>
<rect x="187.50" y="641.26" width="21.20" height="21.20" fill="#04659c"/>
<rect x="213.95" y="641.26" width="21.20" height="21.20" fill="#d9d9d9"/>
<rect x="240.40" y="641.26" width="21.20" height="21.20" fill="#d9d9d9"/>
<rect x="266.85" y="641.26" width="21.20" height="21.20" fill="#d9d9d9"/>
<rect x="293.30" y="641.26" width="21.20" height="21.20" fill="#d9d9d9"/>
<rect x="319.75" y="641.26" width="21.20" height="21.20" fill="#d9d9d9"/>
<rect x="346.20" y="641.26" width="21.20" height="21.20" fill="#d9d9d9"/>
<rect x="372.65" y="641.26" width="21.20" height="21.20" fill="#d9d9d9"/>
<rect x="399.10" y="641.26" width="21.20" height="21.20" fill="#d9d9d9"/>
<rect x="425.55" y="641.26" width="21.20" height="21.20" fill="#d9d9d9"/>
<rect x="452.00" y="641.26" width="21.20" height="21.20" fill="#d9d9d9"/>
<rect x="478.45" y="641.26" width="21.20" height="21.20" fill="#d9d9d9"/>
<rect x="504.90" y="641.26" width="21.20" height="21.20" fill="#d9d9d9"/>
<rect x="531.35" y="641.26" width="21.20" height="21.20" fill="#d9d9d9"/>
<rect x="557.80" y="641.26" width="21.20" height="21.20" fill="#d9d9d9"/>
<rect x="584.25" y="641.26" width="21.20" height="21.20" fill="#d9d9d9"/>
<rect x="610.70" y="641.26" width="21.20" height="21.20" fill="#d9d9d9"/>
<rect x="637.15" y="641.26" width="21.20" height="21.20" fill="#d9d9d9"/>
<rect x="663.60" y="641.26" width="21.20" height="21.20" fill="#d9d9d9"/>
<text x="86.00" y="682.18" font-style="italic">ERBB2</text>
<rect x="187.50" y="667.68" width="21.20" height="21.20" fill="#04659c"/>
<rect x="213.95" y="667.68" width="21.20" height="21.20" fill="#d9d9d9"/>
<rect x="240.40" y="667.68" width="21.20" height="21.20" fill="#d9d9d9"/>
<rect x="266.85" y="667.68" width="21.20" height="21.20" fill="#d9d9d9"/>
<rect x="293.30" y="667.68" width="21.20" height="21.20" fill="#d9d9d9"/>
<rect x="319.75" y="667.68" width="21.20" height="21.20" fill="#d9d9d9"/>
<rect x="346.20" y="667.68" width="21.20" height="21.20" fill="#d9d9d9"/>
<rect x="372.65" y="667.68" width="21.20" height="21.20" fill="#d9d9d9"/>
<rect x="399.10" y="667.68" width="21.20" height="21.20" fill="#d9d9d9"/>
<rect x="425.55" y="667.68" width="21.20" height="21.20" fill="#d9d9d9"/>
<rect x="452.00" y="667.68" width="21.20" height="21.20" fill="#d9d9d9"/>
<rect x="478.45" y="667.68" width="21.20" height="21.20" fill="#d9d9d9"/>
<rect x="504.90" y="667.68" width="21.20" height="21.20" fill="#04659c"/>
<rect x="531.35" y="667.68" width="21.20" height="21.20" fill="#d9d9d9"/>
<rect x="557.80" y="667.68" width="21.20" height="21.20" fill="#d9d9d9"/>
<rect x="584.25" y="667.68" width="21.20" height="21.20" fill="#d9d9d9"/>
<rect x="610.70" y="667.68" width="21.20" height="21.20" fill="#d9d9d9"/>
<rect x="637.15" y="667.68" width="21.20" height="21.20" fill="#d9d9d9"/>
<rect x="663.60" y="667.68" width="21.20" height="21.20" fill="#d9d9d9"/>
<text x="86.00" y="708.85" font-style="italic">MYB</text>
<rect x="187.50" y="694.10" width="21.20" height="21.20" fill="#d9d9d9"/>
<rect x="213.95" y="694.10" width="21.20" height="21.20" fill="#d9d9d9"/>
<rect x="240.40" y="694.10" width="21.20" height="21.20" fill="#d9d9d9"/>
<rect x="266.85" y="694.10" width="21.20" height="21.20" fill="#d9d9d9"/>
<rect x="293.30" y="694.10" width="21.20" height="21.20" fill="#d9d9d9"/>
<rect x="319.75" y="694.10" width="21.20" height="21.20" fill="#d9d9d9"/>
<rect x="346.20" y="694.10" width="21.20" height="21.20" fill="#d9d9d9"/>
<rect x="372.65" y="694.10" width="21.20" height="21.20" fill="#04659c"/>
<rect x="399.10" y="694.10" width="21.20" height="21.20" fill="#d9d9d9"/>
<rect x="425.55" y="694.10" width="21.20" height="21.20" fill="#d9d9d9"/>
<rect x="452.00" y="694.10" width="21.20" height="21.20" fill="#d9d9d9"/>
<rect x="478.45" y="694.10" width="21.20" height="21.20" fill="#d9d9d9"/>
<rect x="504.90" y="694.10" width="21.20" height="21.20" fill="#d9d9d9"/>
<rect x="531.35" y="694.10" width="21.20" height="21.20" fill="#d9d9d9"/>
<rect x="557.80" y="694.10" width="21.20" height="21.20" fill="#d9d9d9"/>
<rect x="584.25" y="694.10" width="21.20" height="21.20" fill="#d9d9d9"/>
<rect x="610.70" y="694.10" width="21.20" height="21.20" fill="#d9d9d9"/>
<rect x="637.15" y="694.10" width="21.20" height="21.20" fill="#d9d9d9"/>
<rect x="663.60" y="694.10" width="21.20" height="21.20" fill="#d9d9d9"/>
<text transform="translate(44.40,260.31) rotate(-90)" text-anchor="middle">Tumour suppressor gene</text>
<text transform="translate(44.10,571.80) rotate(-90)" text-anchor="middle">Oncogene</text>
<text x="85.20" y="743.85">Stage</text>
<rect x="187.50" y="728.80" width="21.20" height="21.20" fill="#a3eedb"/>
<text x="214.60" y="743.85">Stage I</text>
<rect x="293.30" y="728.80" width="21.20" height="21.20" fill="#a3b4f5"/>
<text x="320.40" y="743.85">Stage II</text>
<rect x="399.10" y="728.80" width="21.20" height="21.20" fill="#fbab9b"/>
<text x="426.20" y="744.00">Stage <tspan dx="1.4" letter-spacing="0.25">III</tspan></text>
<text x="85.20" y="769.17">MSI</text>
<rect x="187.50" y="755.22" width="21.20" height="21.20" fill="#a3eedb"/>
<text x="214.60" y="769.17">MSS</text>
<rect x="399.10" y="755.22" width="21.20" height="21.20" fill="#fbab9b"/>
<text x="426.20" y="769.67">MSI-H</text>
<text x="85.20" y="796.74">Progression</text>
<rect x="187.50" y="781.64" width="21.20" height="21.20" fill="#a3eedb"/>
<text x="214.60" y="795.94">Progression-free</text>
<rect x="399.10" y="781.64" width="21.20" height="21.20" fill="#fbab9b"/>
<text x="426.20" y="795.54">Progression</text>
<text x="85.20" y="823.11">Mutation</text>
<rect x="187.50" y="808.06" width="21.20" height="21.20" fill="#04659c"/>
<text x="214.60" y="822.36">SNP</text>
<rect x="298.05" y="811.86" width="11.70" height="12.90" fill="#000"/>
<text x="314.60" y="822.71">INDEL</text>
</svg>
</body></html>
